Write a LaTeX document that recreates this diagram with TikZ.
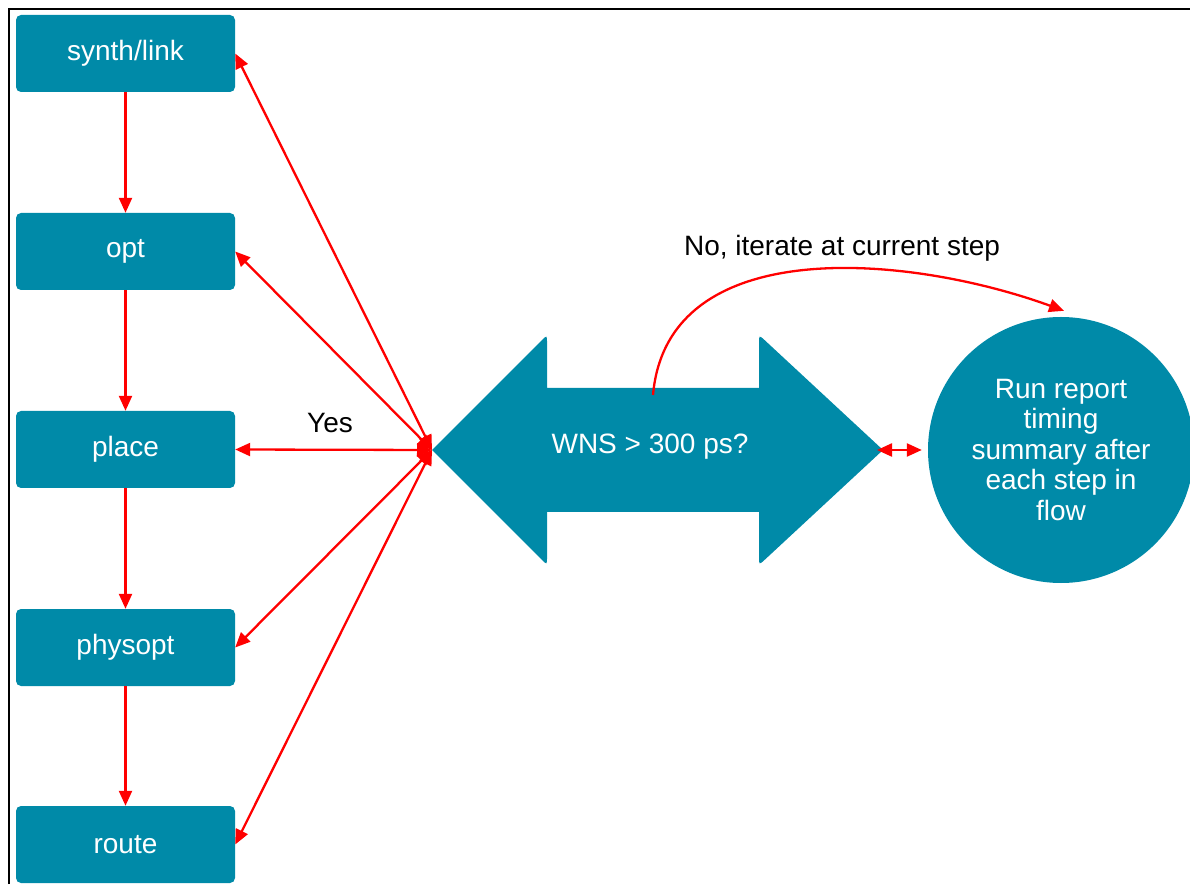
\documentclass[tikz,border=0pt]{standalone}
\usepackage{fontspec}
\setmainfont{Liberation Sans}
\usetikzlibrary{arrows.meta}
\definecolor{flowteal}{HTML}{008AA8}
\begin{document}
\begin{tikzpicture}[
            x = 1pt, y = 1pt,
            box/.style = {fill = flowteal, rounded corners = 5pt, minimum width = 219pt, minimum height = 77pt,
                          text = white, font = \fontsize{28}{32}\selectfont},
            report/.style = {circle, fill = flowteal, minimum size = 266pt, inner sep = 0pt, align = center,
                          text = white, font = \fontsize{28}{30.5}\selectfont},
            lbl/.style = {font = \fontsize{28}{32}\selectfont},
            arr/.style = {draw = red, line width = 2.3pt, -{Triangle[length = 15pt, width = 13pt]}},
            darr/.style = {draw = red, line width = 2.3pt, {Triangle[length = 15pt, width = 13pt]}-{Triangle[length = 15pt, width = 13pt]}},
        ]
        \useasboundingbox (0,0) rectangle (1190,884);
        \draw[line width = 2pt] (9,0) -- (9,875) -- (1190,875);

        \node (SL) [box] at (125.5, 830.5) {synth/link};
        \node (OPT) [box] at (125.5, 632.5) {opt};
        \node (PL) [box] at (125.5, 434.5) {place};
        \node (PO) [box] at (125.5, 236.5) {physopt};
        \node (RT) [box] at (125.5, 39.5) {route};

        % the WNS check
        \fill[flowteal] (432,434) -- (541.3,543.3) .. controls (547,549) .. (547,541) -- (547,496) -- (759,496)
            -- (759,541) .. controls (759,549) .. (764.9,543.6) -- (883,434)
            -- (764.9,324.4) .. controls (759,319) .. (759,327) -- (759,372) -- (547,372)
            -- (547,327) .. controls (547,319) .. (541.3,324.7) -- cycle;
        \coordinate (WL) at (432,434);
        \coordinate (WR) at (883,434);
        \coordinate (WT) at (653,489);
        \node (WNS) [text = white, lbl] at (650,437) {WNS > 300 ps?};

        \node (REP) [report] at (1061,434) {Run report\\timing\\summary after\\each step in\\flow};

        \node (YES) [lbl] at (330,461) {Yes};
        \node (NO) [lbl] at (842,636) {No, iterate at current step};

        \path[arr] (SL) -- (OPT);
        \path[arr] (OPT) -- (PL);
        \path[arr] (PL) -- (PO);
        \path[arr] (PO) -- (RT);

        \path[darr] (WL) -- (SL.east);
        \path[darr] (WL) -- (OPT.east);
        \path[darr] (WL) -- (PL.east);
        \path[darr] (WL) -- (PO.east);
        \path[darr] (WL) -- (RT.east);

        \path[darr, shorten < = -6pt, shorten > = 6pt] (WR) -- (REP.west);
        \path[arr] (WT) to[out = 85, in = 160] ([xshift = 3pt, yshift = 6pt]REP.north);
    \end{tikzpicture}
\end{document}
